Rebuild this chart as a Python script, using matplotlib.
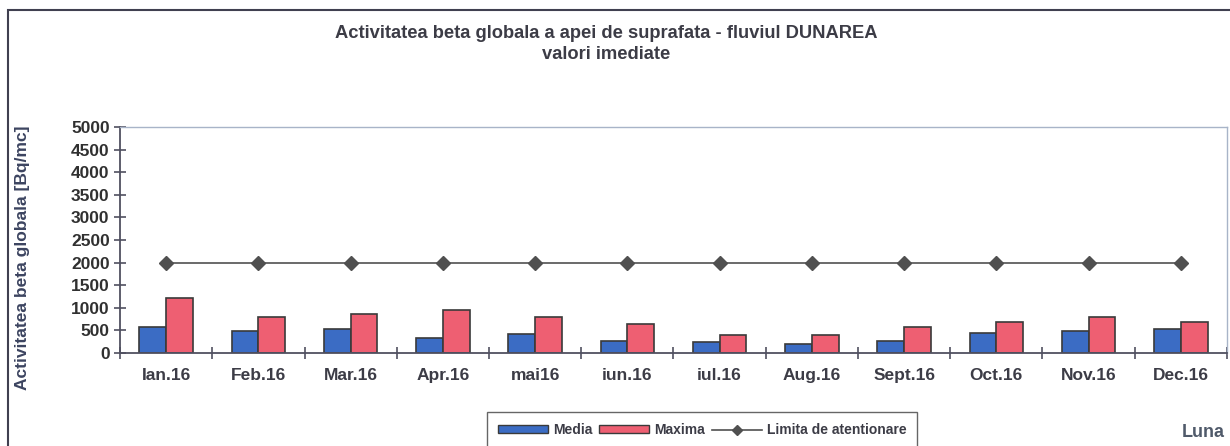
import matplotlib.pyplot as plt
import numpy as np
from matplotlib.patches import Rectangle
from matplotlib.lines import Line2D

plt.rcParams['font.family'] = ['Liberation Sans', 'DejaVu Sans']
plt.rcParams['font.weight'] = 'bold'

# Data
luni   = ['Ian.16', 'Feb.16', 'Mar.16', 'Apr.16', 'mai16', 'iun.16',
          'iul.16', 'Aug.16', 'Sept.16', 'Oct.16', 'Nov.16', 'Dec.16']
media  = [575, 493, 531, 332, 420, 258, 250, 199, 265, 442, 487, 522]
maxima = [1210, 796, 862, 951, 790, 634, 405, 398, 566, 686, 788, 677]
limita = [2000] * 12

c_media = '#3b6cc4'
c_max = '#ee5f72'
c_edge = '#3a3a3a'
c_text = '#3c3c46'

fig = plt.figure(figsize=(12.3, 4.46), dpi=100)
ax = fig.add_axes([0.0976, 0.2085, 0.8999, 0.5067])

x = np.arange(len(luni))
w = 0.29
ax.bar(x - w / 2, media, w, color=c_media, edgecolor=c_edge, linewidth=1.2, label='Media')
ax.bar(x + w / 2, maxima, w, color=c_max, edgecolor=c_edge, linewidth=1.2, label='Maxima')
ax.plot(x, limita, color='#505050', linewidth=1.2, marker='D', markersize=7.5,
        label='Limita de atentionare')

ax.set_xlim(-0.5, len(luni) - 0.5)
ax.set_ylim(0, 5000)
ax.set_yticks(range(0, 5001, 500))
ax.set_xticks(np.arange(-0.5, len(luni), 1.0))
ax.set_xticklabels([])
ax.set_xticks(x, minor=True)
ax.set_xticklabels(luni, minor=True)
ax.tick_params(axis='x', which='minor', length=0, pad=11, labelsize=12.5, labelcolor=c_text)
ax.tick_params(axis='x', which='major', direction='inout', length=9, width=1.2, color='#505060')
ax.tick_params(axis='y', direction='inout', length=9, width=1.2, color='#505060',
               labelsize=12.5, labelcolor='#303030', pad=3)

for s in ['left', 'bottom']:
    ax.spines[s].set_color('#505060')
    ax.spines[s].set_linewidth(1.3)
for s in ['top', 'right']:
    ax.spines[s].set_color('#a8b4c8')
    ax.spines[s].set_linewidth(1.0)

fig.text(0.493, 0.924, 'Activitatea beta globala a apei de suprafata - fluviul DUNAREA',
         ha='center', va='center', fontsize=13.2, color=c_text)
fig.text(0.493, 0.877, 'valori imediate', ha='center', va='center', fontsize=13.2, color=c_text)
fig.text(0.018, 0.4215, 'Activitatea beta globala [Bq/mc]', rotation=90,
         ha='center', va='center', fontsize=12.5, color='#3c4460')
fig.text(0.996, 0.03, 'Luna', ha='right', va='center', fontsize=13, color='#505a6a')

# outer chart frame (cut off at right and bottom in the scan)
fig.add_artist(Rectangle((8 / 1230, -0.2), 1.3, 1.2 - 10 / 446, transform=fig.transFigure,
                         fill=False, edgecolor='#404050', linewidth=1.5, clip_on=False))

handles = [Rectangle((0, 0), 1, 1, facecolor=c_media, edgecolor=c_edge),
           Rectangle((0, 0), 1, 1, facecolor=c_max, edgecolor=c_edge),
           Line2D([], [], color='#505050', marker='D', markersize=5.5, linewidth=1.2)]
leg = fig.legend(handles, ['Media', 'Maxima', 'Limita de atentionare'],
                 loc='upper left', bbox_to_anchor=(487 / 1230, 1 - 412 / 446),
                 ncol=3, frameon=True, fancybox=False, fontsize=10, handlelength=3.6,
                 handleheight=0.45, columnspacing=0.5, handletextpad=0.35,
                 borderpad=0.8, borderaxespad=0)
leg.get_frame().set_edgecolor('#404040')
leg.get_frame().set_linewidth(1.0)
for t in leg.get_texts():
    t.set_color(c_text)

fig.savefig('out.png', dpi=100)
